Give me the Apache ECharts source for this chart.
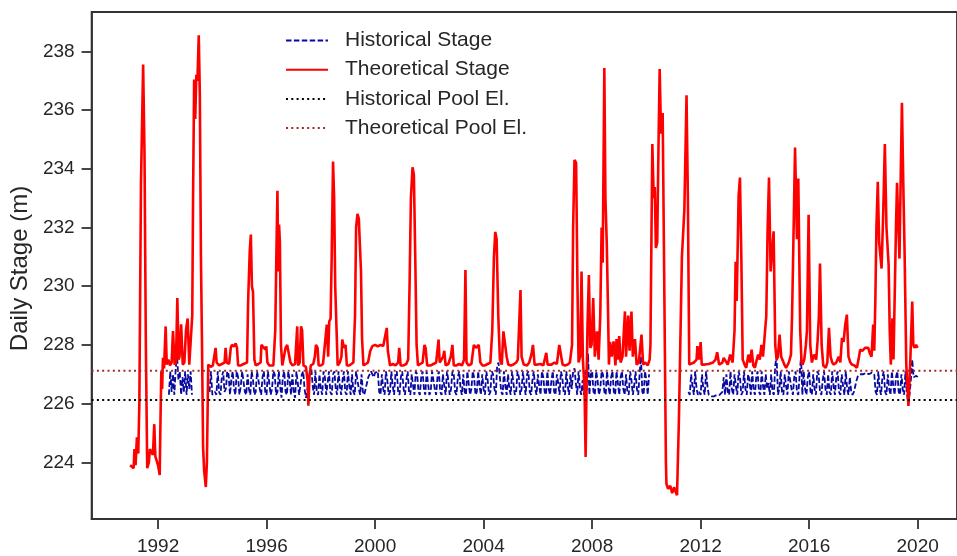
<!DOCTYPE html>
<html>
<head>
<meta charset="utf-8">
<script src="https://cdn.jsdelivr.net/npm/echarts@6.0.0/dist/echarts.min.js"></script>
<style>
html,body{margin:0;padding:0;background:#fff;}
#chart{width:957px;height:556px;}
</style>
</head>
<body>
<div id="chart"></div>
<script>
// ---- data ----
var xTicks = [1992, 1996, 2000, 2004, 2008, 2012, 2016, 2020];
var yTicks = [224, 226, 228, 230, 232, 234, 236, 238];

var histPoolEl = 226.12;
var theoPoolEl = 227.12;

var theoYears = [
1990.97,1991.03,1991.10,1991.13,1991.17,1991.22,1991.27,1991.31,1991.37,1991.45,1991.50,1991.55,1991.60,1991.66,1991.70,1991.75,1991.81,1991.86,1991.90,1991.95,
1992.00,1992.06,1992.09,1992.12,1992.15,1992.18,1992.22,1992.28,1992.32,1992.38,1992.44,1992.50,1992.55,1992.61,1992.66,1992.71,1992.76,1992.79,1992.85,1992.91,1992.97,
1993.03,1993.09,1993.15,1993.22,1993.26,1993.29,1993.33,1993.37,1993.41,1993.45,1993.50,1993.54,1993.58,1993.62,1993.66,1993.70,1993.76,1993.80,1993.85,1993.94,
1994.02,1994.08,1994.12,1994.16,1994.25,1994.35,1994.45,1994.49,1994.53,1994.62,1994.68,1994.72,1994.80,1994.86,1994.91,1994.95,
1995.05,1995.15,1995.22,1995.28,1995.32,1995.38,1995.42,1995.46,1995.50,1995.55,1995.60,1995.70,1995.78,1995.81,1995.88,1995.95,1995.99,
1996.03,1996.10,1996.17,1996.25,1996.32,1996.36,1996.40,1996.43,1996.46,1996.49,1996.53,1996.58,1996.65,1996.70,1996.76,1996.82,1996.88,1996.96,
1997.05,1997.10,1997.13,1997.16,1997.22,1997.27,1997.31,1997.36,1997.45,1997.51,1997.54,1997.58,1997.63,1997.72,1997.78,1997.82,1997.88,1997.92,
1998.00,1998.08,1998.15,1998.22,1998.27,1998.31,1998.36,1998.40,1998.45,1998.49,1998.53,1998.58,1998.62,1998.70,1998.76,1998.79,1998.85,1998.91,1998.96,
1999.05,1999.12,1999.20,1999.26,1999.30,1999.35,1999.40,1999.44,1999.48,1999.52,1999.57,1999.66,1999.74,1999.82,1999.90,
2000.00,2000.10,2000.20,2000.30,2000.36,2000.43,2000.47,2000.55,2000.65,2000.75,2000.85,2000.89,2000.94,
2001.05,2001.15,2001.22,2001.27,2001.32,2001.38,2001.43,2001.48,2001.53,2001.58,2001.66,2001.75,2001.82,2001.86,2001.92,
2002.05,2002.15,2002.25,2002.34,2002.38,2002.45,2002.51,2002.55,2002.60,2002.70,2002.79,2002.85,2002.90,
2003.00,2003.10,2003.20,2003.28,2003.33,2003.37,2003.45,2003.55,2003.64,2003.72,2003.82,2003.88,2003.96,
2004.05,2004.15,2004.25,2004.32,2004.38,2004.43,2004.48,2004.54,2004.60,2004.67,2004.73,2004.79,2004.85,2004.91,
2005.00,2005.10,2005.20,2005.26,2005.31,2005.36,2005.40,2005.48,2005.60,2005.68,2005.76,2005.82,2005.88,2005.98,
2006.10,2006.20,2006.31,2006.36,2006.50,2006.61,2006.70,2006.79,2006.86,2006.91,
2007.00,2007.10,2007.18,2007.26,2007.30,2007.35,2007.41,2007.46,2007.50,2007.56,2007.61,2007.66,2007.72,2007.76,2007.80,2007.83,2007.88,2007.93,2007.98,
2008.04,2008.10,2008.18,2008.24,2008.30,2008.35,2008.39,2008.45,2008.49,2008.54,2008.58,2008.62,2008.66,2008.72,2008.79,2008.86,2008.90,2008.95,
2009.00,2009.05,2009.12,2009.21,2009.25,2009.33,2009.38,2009.45,2009.50,2009.58,2009.64,2009.72,2009.82,2009.88,2009.96,
2010.05,2010.12,2010.15,2010.19,2010.22,2010.27,2010.31,2010.35,2010.40,2010.45,2010.49,2010.54,2010.60,2010.64,2010.68,2010.72,2010.74,2010.80,2010.88,2010.95,
2011.02,2011.08,2011.13,2011.20,2011.31,2011.40,2011.48,2011.53,2011.58,2011.65,2011.75,2011.85,2011.88,2011.95,
2012.00,2012.04,2012.15,2012.30,2012.45,2012.55,2012.61,2012.68,2012.80,2012.85,2012.92,
2013.00,2013.09,2013.18,2013.25,2013.29,2013.33,2013.40,2013.45,2013.50,2013.55,2013.62,2013.68,2013.76,2013.82,2013.88,2013.94,
2014.00,2014.07,2014.12,2014.18,2014.24,2014.30,2014.36,2014.42,2014.47,2014.52,2014.58,2014.61,2014.69,2014.75,2014.80,2014.85,2014.91,2014.97,
2015.03,2015.10,2015.15,2015.25,2015.33,2015.37,2015.40,2015.48,2015.55,2015.60,2015.67,2015.72,2015.76,2015.82,2015.88,2015.92,2015.98,
2016.04,2016.10,2016.18,2016.26,2016.31,2016.36,2016.40,2016.46,2016.52,2016.61,2016.67,2016.73,2016.79,2016.85,2016.91,
2017.00,2017.09,2017.15,2017.21,2017.27,2017.33,2017.39,2017.45,2017.52,2017.58,2017.67,2017.76,2017.82,2017.88,2017.96,
2018.06,2018.18,2018.24,2018.30,2018.36,2018.40,2018.44,2018.48,2018.53,2018.58,2018.67,2018.73,2018.79,2018.85,2018.93,2018.97,
2019.01,2019.07,2019.11,2019.15,2019.20,2019.24,2019.29,2019.33,2019.38,2019.42,2019.47,2019.52,2019.58,2019.66,2019.73,2019.80,2019.84,2019.88,2019.94,2020.00
];

var theoValues = [
223.9,223.85,223.8,224.45,223.9,224.85,224.3,226.0,233.5,237.55,234.5,228.0,223.8,224.0,224.45,224.4,224.25,225.3,224.2,224.2,
223.9,223.57,225.5,227.1,226.5,227.56,227.2,228.63,227.33,227.5,227.3,227.4,228.47,227.33,227.4,229.6,227.5,227.6,228.7,227.33,227.4,
228.5,228.9,227.33,227.33,229.0,233.0,237.04,235.7,237.2,237.0,238.55,236.5,231.0,228.0,224.5,223.7,223.16,224.0,227.33,227.25,
227.3,227.35,227.9,227.4,227.3,227.35,227.4,227.9,227.4,227.35,227.9,228.0,227.95,228.05,227.9,227.3,
227.3,227.35,227.3,227.4,229.5,231.2,231.76,230.0,229.8,227.5,227.3,227.35,227.4,228.0,227.95,227.85,227.95,
227.4,227.3,227.35,227.3,228.5,231.0,233.25,230.5,232.1,231.5,228.0,227.3,227.35,227.9,228.0,228.0,227.4,227.3,
227.35,227.4,228.63,227.3,227.4,228.63,228.5,227.3,227.25,226.8,225.93,226.9,227.3,227.35,227.6,228.0,227.9,227.3,
227.3,227.35,227.4,228.69,227.6,228.8,228.9,231.0,234.25,233.0,230.0,228.5,227.3,227.4,227.6,228.18,227.9,228.0,227.3,
227.3,227.35,227.4,229.0,232.0,232.46,232.3,232.36,230.5,228.2,227.3,227.35,227.4,227.79,227.96,
228.0,227.95,228.0,227.96,228.0,228.58,227.8,227.3,227.35,227.3,227.4,227.9,227.3,
227.3,227.35,227.5,230.0,233.0,234.05,233.8,231.0,228.0,227.3,227.35,227.4,228.0,227.9,227.3,
227.3,227.35,227.4,228.18,227.4,227.35,227.6,227.8,227.3,227.35,227.6,228.0,227.3,
227.3,227.35,227.3,227.5,230.55,227.4,227.3,227.35,228.0,227.9,228.0,227.4,227.3,
227.3,227.35,227.4,228.5,231.0,231.85,231.6,229.0,227.5,227.33,228.46,228.4,227.6,227.33,
227.3,227.33,227.4,227.5,227.45,229.87,227.6,227.33,227.3,227.4,227.67,228.0,227.33,227.33,
227.35,227.3,227.73,227.33,227.33,227.4,227.35,228.0,228.0,227.33,
227.3,227.33,227.4,228.0,232.0,234.3,234.2,230.0,227.4,227.6,230.5,227.5,226.5,224.18,227.0,228.69,230.38,227.9,228.0,
229.6,227.6,228.46,227.5,229.0,232.0,230.8,237.43,233.0,231.45,229.5,227.33,228.1,227.6,228.12,227.3,228.2,227.5,
228.3,227.4,227.6,229.14,227.6,229.0,227.8,229.14,227.6,228.2,227.33,227.4,228.35,227.33,227.4,
227.3,227.5,228.0,232.0,234.84,233.0,233.38,231.3,231.5,235.0,237.4,235.2,235.9,232.0,228.0,224.0,223.27,223.1,223.2,222.95,
223.15,223.0,222.88,225.5,231.0,232.6,236.5,233.0,227.33,227.3,227.4,227.5,227.96,227.5,
228.1,227.33,227.33,227.35,227.4,227.5,227.75,227.33,227.4,227.56,227.5,
227.33,227.67,227.4,228.5,230.83,229.5,233.09,233.7,231.0,227.5,227.33,227.22,227.67,227.4,227.84,227.3,
227.22,227.5,227.67,227.5,228.0,227.6,227.6,229.0,232.0,233.7,230.5,230.5,231.87,228.0,227.5,227.6,228.35,227.6,
227.6,227.3,227.22,227.4,227.67,229.0,230.5,234.72,231.6,233.67,228.5,227.4,227.33,227.5,228.0,228.5,232.43,
228.0,227.4,227.67,227.5,228.12,229.0,230.77,228.0,227.3,227.22,227.4,228.58,227.6,227.4,227.33,
227.4,227.6,227.4,228.24,228.1,228.69,229.03,227.6,227.4,227.33,227.3,227.22,227.5,227.84,227.8,
227.9,227.9,227.7,227.6,228.69,227.8,229.5,232.0,233.56,231.5,230.6,232.5,234.84,232.0,230.72,228.5,
227.33,228.91,227.5,229.5,232.0,233.52,232.0,230.94,234.0,236.25,233.5,231.05,227.33,225.92,227.5,229.48,228.0,227.9,228.0,227.9
];

// historical stage: one value every 0.05 year from histStart (null = no record)
var histStart = 1992.40;
var histStep = 0.05;
var histValues = [
// 1992.40 - 1993.25
226.3,227.1,226.4,227.0,226.3,227.2,227.67,226.8,227.1,226.3,226.9,226.4,227.1,226.3,227.0,226.5,227.1,226.3,
// 1993.30 - 1993.95
null,null,null,null,null,null,null,null,null,null,null,null,226.4,227.1,
// 1994
226.3,226.3,226.4,226.3,227.1,226.4,226.3,226.9,227.1,226.4,226.5,227.1,227.0,226.3,226.8,227.1,226.5,226.3,227.1,226.9,
// 1995
226.3,226.6,227.1,227.1,226.4,226.3,227.0,226.5,226.3,227.1,226.8,226.3,226.4,227.1,227.1,226.5,226.3,226.9,227.1,226.4,
// 1996
226.3,227.1,226.7,226.3,226.5,227.1,227.0,226.3,226.4,227.1,226.6,226.2,226.9,227.1,226.4,226.3,227.1,226.8,226.3,227.0,
// 1997
226.4,226.2,227.1,226.7,226.3,226.3,227.0,227.1,226.5,226.2,226.4,226.8,227.1,227.2,226.6,226.3,227.1,226.4,226.3,227.0,
// 1998
226.5,226.3,227.1,226.9,226.3,226.7,227.1,226.4,226.3,227.0,227.1,226.5,226.3,227.1,226.6,226.3,226.8,227.1,226.4,226.3,
// 1999
227.1,226.6,226.3,227.0,226.4,226.3,227.1,227.1,226.5,226.3,227.0,226.4,226.3,226.5,226.7,226.9,227.0,227.1,227.1,226.9,
// 2000
227.05,227.1,227.1,226.4,226.3,227.0,226.5,226.3,227.1,226.8,226.3,226.4,227.1,226.6,226.3,227.0,227.1,226.4,226.3,226.9,
// 2001
227.1,226.5,226.3,226.8,227.1,226.4,226.3,227.0,226.6,226.3,227.1,227.0,226.4,226.3,226.9,227.1,226.5,226.3,227.1,226.7,
// 2002
226.3,226.4,227.1,227.1,226.5,226.3,226.9,227.1,226.4,226.3,227.0,226.6,226.3,227.1,226.8,226.3,226.5,227.1,227.0,226.4,
// 2003
226.3,226.9,227.1,226.5,226.3,227.0,226.4,226.3,227.1,226.7,226.3,226.5,227.1,226.9,226.3,226.4,227.1,226.6,226.3,227.0,
// 2004
226.5,226.3,227.1,226.8,226.3,226.4,227.1,227.0,226.5,226.3,227.3,227.4,226.9,226.4,226.3,227.1,226.6,226.3,227.0,226.5,
// 2005
226.3,227.1,226.7,226.3,226.4,227.1,226.9,226.3,226.5,227.1,226.6,226.3,227.0,227.1,226.4,226.3,226.8,227.1,226.5,226.3,
// 2006
227.0,226.6,226.3,227.1,226.9,226.4,226.3,227.1,226.5,226.3,226.8,227.1,226.4,226.3,227.0,226.7,226.3,227.1,226.9,226.4,
// 2007
226.3,227.1,226.6,226.3,227.0,226.5,227.1,227.2,226.7,226.3,227.1,226.5,226.3,226.8,226.3,227.1,226.4,227.7,226.3,227.0,
// 2008
227.1,226.4,226.3,227.1,226.8,226.3,226.5,227.1,227.0,226.4,226.3,227.1,226.6,226.3,226.9,227.1,226.4,226.3,227.1,226.7,
// 2009
226.3,226.9,227.1,226.5,226.3,227.0,226.4,226.3,227.1,226.8,226.3,226.6,227.1,226.5,226.3,227.0,227.6,226.4,226.3,227.1,
// 2010
226.8,226.3,227.0,null,null,null,null,null,null,null,null,null,null,null,null,null,null,null,null,null,
// 2011
null,null,null,null,null,null,null,null,null,null,null,226.4,226.3,227.0,226.6,226.3,227.1,226.5,226.3,226.4,
// 2012
226.3,227.0,226.5,226.3,227.1,226.6,226.3,226.3,226.25,226.3,226.25,226.3,226.3,226.35,226.3,226.3,226.4,226.9,226.3,227.0,
// 2013
226.4,226.3,227.1,226.5,226.3,227.0,226.6,226.3,227.1,226.9,226.3,226.4,227.1,226.5,226.3,227.0,226.8,226.3,227.1,226.5,
// 2014
226.3,226.9,227.1,226.4,226.3,227.1,226.6,226.3,227.0,226.5,226.7,226.3,227.0,226.4,226.3,227.3,227.6,226.3,226.5,227.1,
// 2015
226.4,226.3,227.0,226.6,226.3,227.1,226.8,226.5,226.3,226.9,227.1,226.4,226.3,227.0,227.6,226.3,227.1,226.5,226.3,226.9,
// 2016
227.1,226.4,226.3,227.0,226.5,226.3,227.1,227.0,226.4,226.3,226.8,227.1,226.5,226.3,227.0,226.4,226.3,227.1,226.6,226.3,
// 2017
226.9,227.1,226.4,226.3,227.0,226.6,226.3,227.1,226.5,226.3,226.9,226.4,226.3,226.4,226.6,226.8,226.95,227.0,227.0,227.05,
// 2018
227.0,227.0,227.05,227.0,227.0,227.0,227.05,227.0,227.0,226.4,226.3,227.1,226.5,226.3,226.9,227.1,226.4,226.3,227.0,226.5,
// 2019
226.3,227.1,226.6,226.3,226.9,227.1,226.4,226.3,227.0,226.5,226.3,227.1,226.4,226.0,226.3,226.8,227.5,226.9,226.9,226.95,
// 2020.00
226.9
];

// ---- build series data from the arrays ----
var xMin = 1989.55, xMax = 2021.45;
var yMin = 222.07, yMax = 239.34;

var theoData = theoYears.map(function (t, i) { return [t, theoValues[i]]; });
var histData = histValues.map(function (v, i) {
  return [+(histStart + i * histStep).toFixed(2), v === null ? '-' : v];
});
var histPoolData = [[xMin, histPoolEl], [xMax, histPoolEl]];
var theoPoolData = [[xMin, theoPoolEl], [xMax, theoPoolEl]];

var FONT = '"Liberation Sans", Arial, Helvetica, sans-serif';
var AXC = '#333333';
var TXT = '#262626';

var chart = echarts.init(document.getElementById('chart'), null, {renderer: 'canvas'});
chart.setOption({
  animation: false,
  backgroundColor: '#ffffff',
  textStyle: {fontFamily: FONT},
  grid: {
    left: 91, top: 12, width: 877, height: 510,
    show: true, borderColor: AXC, borderWidth: 1.8, backgroundColor: 'transparent'
  },
  legend: {
    orient: 'vertical',
    left: 285, top: 30, padding: 0,
    itemWidth: 42, itemHeight: 14, itemGap: 8.2,
    itemStyle: {opacity: 0},
    textStyle: {fontSize: 21, color: TXT, fontFamily: FONT, padding: [0, 0, 0, 12]},
    data: ['Historical Stage', 'Theoretical Stage', 'Historical Pool El.', 'Theoretical Pool El.']
  },
  xAxis: {
    type: 'value', min: xMin, max: xMax,
    axisLine: {show: true, lineStyle: {color: AXC, width: 1.8}},
    axisTick: {show: true, inside: false, length: 10, customValues: xTicks, lineStyle: {color: AXC, width: 1.8}},
    axisLabel: {customValues: xTicks, fontSize: 19, color: TXT, margin: 18, fontFamily: FONT,
      formatter: function (v) { return String(Math.round(v)); }},
    splitLine: {show: false}
  },
  yAxis: {
    type: 'value', min: yMin, max: yMax,
    name: 'Daily Stage (m)', nameLocation: 'middle', nameGap: 47,
    nameTextStyle: {fontSize: 24, color: TXT, fontFamily: FONT, padding: [0, 6, 0, 0]},
    axisLine: {show: true, lineStyle: {color: AXC, width: 1.8}},
    axisTick: {show: true, inside: false, length: 10, customValues: yTicks, lineStyle: {color: AXC, width: 1.8}},
    axisLabel: {customValues: yTicks, fontSize: 19, color: TXT, margin: 17, fontFamily: FONT,
      formatter: function (v) { return String(Math.round(v)); }},
    splitLine: {show: false}
  },
  series: [
    {
      name: 'Historical Stage', type: 'line', data: histData, symbol: 'none', showSymbol: false,
      connectNulls: false, sampling: null,
      lineStyle: {color: '#0a0aa0', width: 1.8, type: [5.5, 2.4]},
      itemStyle: {color: '#0a0aa0'}
    },
    {
      name: 'Theoretical Stage', type: 'line', data: theoData, symbol: 'none', showSymbol: false,
      lineStyle: {color: '#ff0000', width: 2.6},
      itemStyle: {color: '#ff0000'}
    },
    {
      name: 'Historical Pool El.', type: 'line', data: histPoolData, symbol: 'none', showSymbol: false,
      lineStyle: {color: '#000000', width: 2, type: [2, 3.3]},
      itemStyle: {color: '#000000'}
    },
    {
      name: 'Theoretical Pool El.', type: 'line', data: theoPoolData, symbol: 'none', showSymbol: false,
      lineStyle: {color: '#a52a2a', width: 2, type: [2, 3.3]},
      itemStyle: {color: '#a52a2a'}
    }
  ]
});
</script>
</body>
</html>
